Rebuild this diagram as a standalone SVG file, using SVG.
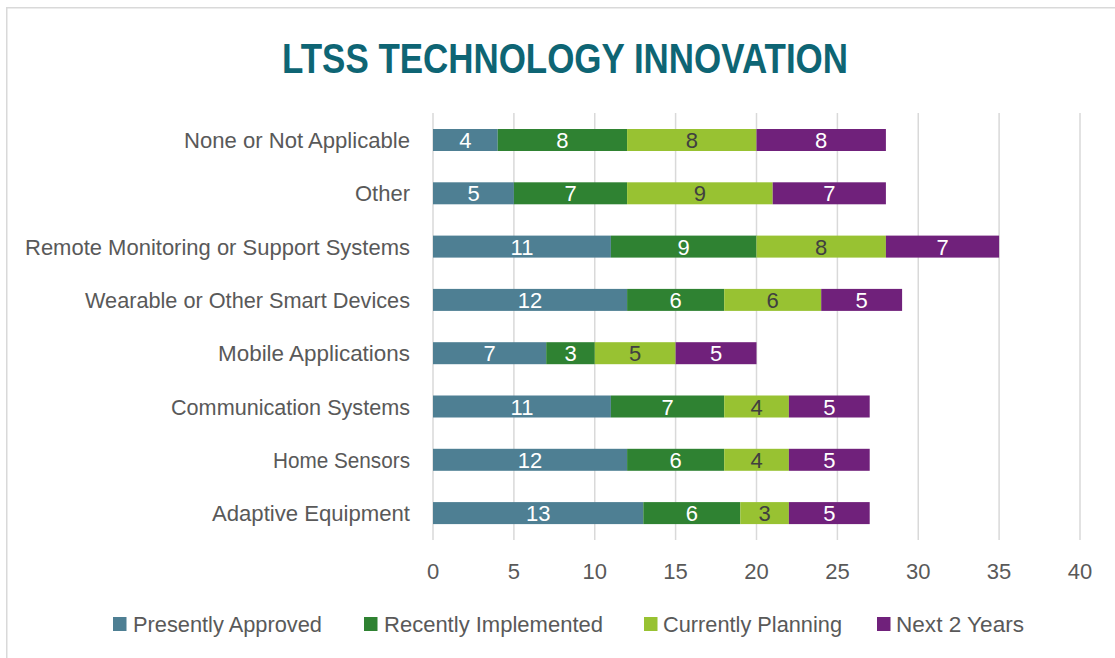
<svg xmlns="http://www.w3.org/2000/svg" width="1115" height="658" viewBox="0 0 1115 658">
<style>
.frame{fill:#fff;stroke:#D9D9D9;stroke-width:1.5}
.grid{stroke:#D9D9D9;stroke-width:1.5}
.title{font-family:"Liberation Sans",Arial,sans-serif;font-weight:bold;font-size:42px;fill:#0E6574}
.cat{font-family:"Liberation Sans",Arial,sans-serif;font-size:21.5px;fill:#595959;text-anchor:end}
.tick{font-family:"Liberation Sans",Arial,sans-serif;font-size:22px;fill:#595959;text-anchor:middle}
.leg{font-family:"Liberation Sans",Arial,sans-serif;font-size:21.5px;fill:#595959}
.v{font-family:"Liberation Sans",Arial,sans-serif;font-size:22px;fill:#fff;text-anchor:middle}
.vd{font-family:"Liberation Sans",Arial,sans-serif;font-size:22px;fill:#404040;text-anchor:middle}
.pa{fill:#4E7F93}.ri{fill:#2F8232}.cp{fill:#98C232}.nx{fill:#70217B}
</style>
<rect class="frame" x="6.75" y="7.75" width="1120" height="660"/>
<text class="title" x="282" y="73" textLength="566" lengthAdjust="spacingAndGlyphs">LTSS TECHNOLOGY INNOVATION</text>
<g id="gridlines">
<line class="grid" x1="433" y1="113" x2="433" y2="540"/>
<line class="grid" x1="513.9" y1="113" x2="513.9" y2="540"/>
<line class="grid" x1="594.75" y1="113" x2="594.75" y2="540"/>
<line class="grid" x1="675.6" y1="113" x2="675.6" y2="540"/>
<line class="grid" x1="756.5" y1="113" x2="756.5" y2="540"/>
<line class="grid" x1="837.4" y1="113" x2="837.4" y2="540"/>
<line class="grid" x1="918.25" y1="113" x2="918.25" y2="540"/>
<line class="grid" x1="999.1" y1="113" x2="999.1" y2="540"/>
<line class="grid" x1="1080" y1="113" x2="1080" y2="540"/>
</g>
<g id="axis-labels">
<text class="tick" x="433" y="579">0</text>
<text class="tick" x="513.9" y="579">5</text>
<text class="tick" x="594.75" y="579">10</text>
<text class="tick" x="675.6" y="579">15</text>
<text class="tick" x="756.5" y="579">20</text>
<text class="tick" x="837.4" y="579">25</text>
<text class="tick" x="918.25" y="579">30</text>
<text class="tick" x="999.1" y="579">35</text>
<text class="tick" x="1080" y="579">40</text>
</g>
<g id="row-none">
<text class="cat" x="410" y="148" textLength="226" lengthAdjust="spacingAndGlyphs">None or Not Applicable</text>
<rect class="pa" x="433" y="129" width="64.7" height="22"/>
<rect class="ri" x="497.7" y="129" width="129.4" height="22"/>
<rect class="cp" x="627.1" y="129" width="129.4" height="22"/>
<rect class="nx" x="756.5" y="129" width="129.4" height="22"/>
<text class="v" x="465.4" y="148">4</text><text class="v" x="562.4" y="148">8</text><text class="vd" x="691.8" y="148">8</text><text class="v" x="821.2" y="148">8</text>
</g>
<g id="row-other">
<text class="cat" x="410" y="201.3" textLength="55" lengthAdjust="spacingAndGlyphs">Other</text>
<rect class="pa" x="433" y="182.3" width="80.9" height="22"/>
<rect class="ri" x="513.9" y="182.3" width="113.2" height="22"/>
<rect class="cp" x="627.1" y="182.3" width="145.6" height="22"/>
<rect class="nx" x="772.7" y="182.3" width="113.2" height="22"/>
<text class="v" x="473.5" y="201.3">5</text><text class="v" x="570.5" y="201.3">7</text><text class="vd" x="699.9" y="201.3">9</text><text class="v" x="829.3" y="201.3">7</text>
</g>
<g id="row-remote">
<text class="cat" x="410" y="254.6" textLength="385" lengthAdjust="spacingAndGlyphs">Remote Monitoring or Support Systems</text>
<rect class="pa" x="433" y="235.6" width="177.9" height="22"/>
<rect class="ri" x="610.9" y="235.6" width="145.6" height="22"/>
<rect class="cp" x="756.5" y="235.6" width="129.4" height="22"/>
<rect class="nx" x="885.9" y="235.6" width="113.2" height="22"/>
<text class="v" x="522" y="254.6">11</text><text class="v" x="683.7" y="254.6">9</text><text class="vd" x="821.2" y="254.6">8</text><text class="v" x="942.5" y="254.6">7</text>
</g>
<g id="row-wearable">
<text class="cat" x="410" y="307.9" textLength="325" lengthAdjust="spacingAndGlyphs">Wearable or Other Smart Devices</text>
<rect class="pa" x="433" y="288.9" width="194.1" height="22"/>
<rect class="ri" x="627.1" y="288.9" width="97.1" height="22"/>
<rect class="cp" x="724.2" y="288.9" width="97" height="22"/>
<rect class="nx" x="821.2" y="288.9" width="80.9" height="22"/>
<text class="v" x="530.1" y="307.9">12</text><text class="v" x="675.6" y="307.9">6</text><text class="vd" x="772.7" y="307.9">6</text><text class="v" x="861.7" y="307.9">5</text>
</g>
<g id="row-mobile">
<text class="cat" x="410" y="361.2" textLength="192" lengthAdjust="spacingAndGlyphs">Mobile Applications</text>
<rect class="pa" x="433" y="342.2" width="113.2" height="22"/>
<rect class="ri" x="546.2" y="342.2" width="48.6" height="22"/>
<rect class="cp" x="594.8" y="342.2" width="80.8" height="22"/>
<rect class="nx" x="675.6" y="342.2" width="80.9" height="22"/>
<text class="v" x="489.6" y="361.2">7</text><text class="v" x="570.5" y="361.2">3</text><text class="vd" x="635.2" y="361.2">5</text><text class="v" x="716.1" y="361.2">5</text>
</g>
<g id="row-communication">
<text class="cat" x="410" y="414.5" textLength="239" lengthAdjust="spacingAndGlyphs">Communication Systems</text>
<rect class="pa" x="433" y="395.5" width="177.9" height="22"/>
<rect class="ri" x="610.9" y="395.5" width="113.3" height="22"/>
<rect class="cp" x="724.2" y="395.5" width="64.7" height="22"/>
<rect class="nx" x="788.9" y="395.5" width="80.8" height="22"/>
<text class="v" x="522" y="414.5">11</text><text class="v" x="667.6" y="414.5">7</text><text class="vd" x="756.5" y="414.5">4</text><text class="v" x="829.3" y="414.5">5</text>
</g>
<g id="row-home">
<text class="cat" x="410" y="467.8" textLength="137" lengthAdjust="spacingAndGlyphs">Home Sensors</text>
<rect class="pa" x="433" y="448.8" width="194.1" height="22"/>
<rect class="ri" x="627.1" y="448.8" width="97.1" height="22"/>
<rect class="cp" x="724.2" y="448.8" width="64.7" height="22"/>
<rect class="nx" x="788.9" y="448.8" width="80.8" height="22"/>
<text class="v" x="530.1" y="467.8">12</text><text class="v" x="675.6" y="467.8">6</text><text class="vd" x="756.5" y="467.8">4</text><text class="v" x="829.3" y="467.8">5</text>
</g>
<g id="row-adaptive">
<text class="cat" x="410" y="521.1" textLength="198" lengthAdjust="spacingAndGlyphs">Adaptive Equipment</text>
<rect class="pa" x="433" y="502.1" width="210.3" height="22"/>
<rect class="ri" x="643.3" y="502.1" width="97" height="22"/>
<rect class="cp" x="740.3" y="502.1" width="48.6" height="22"/>
<rect class="nx" x="788.9" y="502.1" width="80.8" height="22"/>
<text class="v" x="538.2" y="521.1">13</text><text class="v" x="691.8" y="521.1">6</text><text class="vd" x="764.6" y="521.1">3</text><text class="v" x="829.3" y="521.1">5</text>
</g>
<g id="legend">
<rect class="pa" x="113" y="617" width="13.5" height="14"/>
<text class="leg" x="133" y="632" textLength="189" lengthAdjust="spacingAndGlyphs">Presently Approved</text>
<rect class="ri" x="364" y="617" width="13.5" height="14"/>
<text class="leg" x="384" y="632" textLength="219" lengthAdjust="spacingAndGlyphs">Recently Implemented</text>
<rect class="cp" x="644" y="617" width="13.5" height="14"/>
<text class="leg" x="663" y="632" textLength="179" lengthAdjust="spacingAndGlyphs">Currently Planning</text>
<rect class="nx" x="877" y="617" width="13.5" height="14"/>
<text class="leg" x="896" y="632" textLength="128" lengthAdjust="spacingAndGlyphs">Next 2 Years</text>
</g>
</svg>
